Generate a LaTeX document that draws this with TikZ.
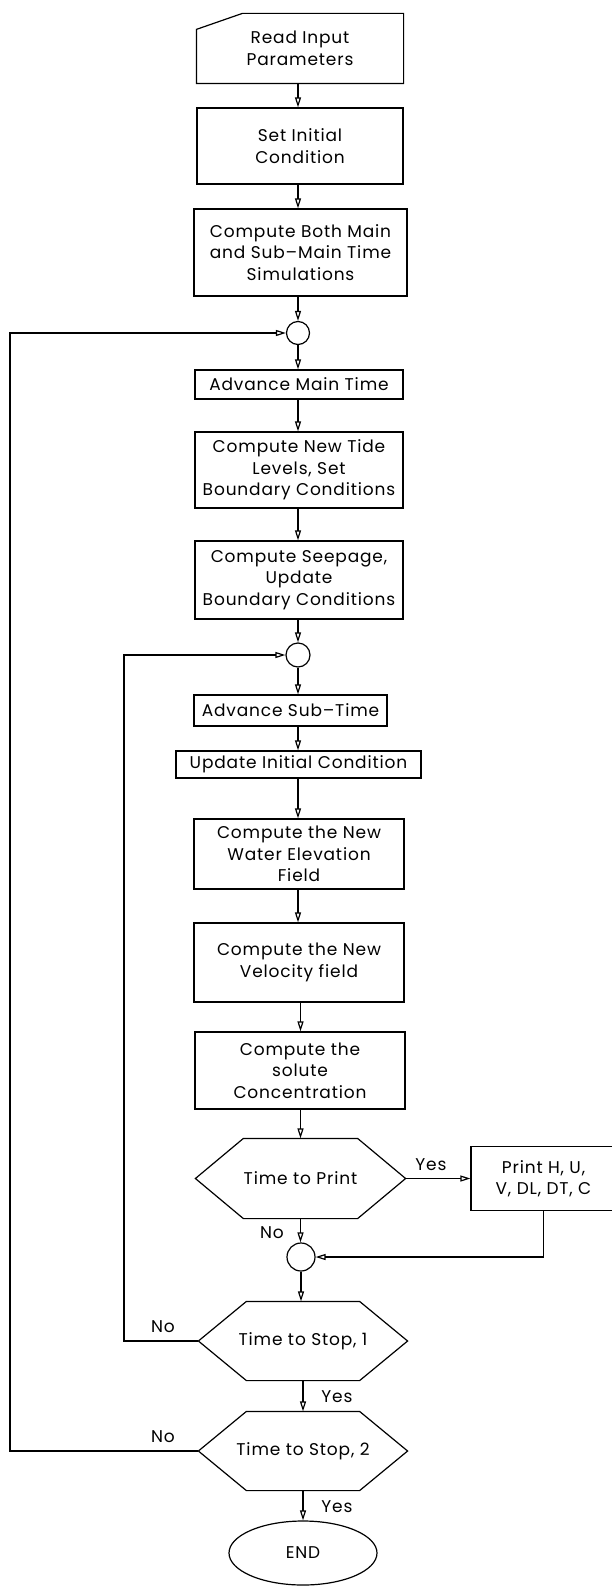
\documentclass[tikz,border=0pt]{standalone}
\usepackage{fontspec}
\setmainfont{Poppins}[LetterSpace=5]
\usetikzlibrary{arrows.meta,shapes.geometric,calc}
\newcommand\flowfont{\fontsize{17}{21.5}\selectfont}
\begin{document}
\begin{tikzpicture}[x=1pt,y=-1pt,line width=1.2pt,
  box/.style={draw,rectangle,align=center,inner sep=0pt,font=\flowfont},
  plain/.style={draw=none,rectangle,align=center,inner sep=0pt,font=\flowfont},
  joint/.style={draw,circle,inner sep=0pt,minimum size=23pt},
  lbl/.style={font=\flowfont,inner sep=1pt},
  arr/.style={-{Triangle[open,length=10pt,width=6pt]}}]
\useasboundingbox (0,0) rectangle (612,1586);

% read input (card shape)
\node[plain,minimum width=206pt,minimum height=69pt] (read) at (300,48.5) {Read Input\\Parameters};
\draw ([yshift=-16pt]read.north west) -- ([xshift=46pt]read.north west) -- (read.north east)
  -- (read.south east) -- (read.south west) -- cycle;

\node[box,minimum width=206pt,minimum height=76pt] (init) at (300,146) {Set Initial\\Condition};
\node[box,minimum width=213pt,minimum height=87pt] (both) at (300.5,252.5) {Compute Both Main\\and Sub--Main Time\\Simulations};
\node[joint] (c1) at (298,333) {};
\node[box,minimum width=208pt,minimum height=29pt] (advmain) at (299,384.5) {Advance Main Time};
\node[box,minimum width=208pt,minimum height=76pt] (tide) at (299,470) {Compute New Tide\\Levels, Set\\Boundary Conditions};
\node[box,minimum width=208pt,minimum height=78pt] (seep) at (299,580) {Compute Seepage,\\Update\\Boundary Conditions};
\node[joint,minimum size=24pt] (c2) at (298,655) {};
\node[box,minimum width=193pt,minimum height=31pt] (advsub) at (290.5,710.5) {Advance Sub--Time};
\node[box,minimum width=245pt,minimum height=27pt] (upd) at (298.5,764.5) {Update Initial Condition};
\node[box,minimum width=210pt,minimum height=70pt] (water) at (299,854) {Compute the New\\Water Elevation\\Field};
\node[box,minimum width=210pt,minimum height=79pt] (vel) at (299,962.5) {Compute the New\\Velocity field};
\node[box,minimum width=210pt,minimum height=77pt] (sol) at (300,1070.5) {Compute the\\solute\\Concentration};

% decision hexagons
\node[plain,minimum width=209pt,minimum height=79pt] (tprint) at (300.5,1178.5) {Time to Print};
\node[plain,minimum width=208pt,minimum height=78pt] (stop1) at (303,1341) {Time to Stop, 1};
\node[plain,minimum width=208pt,minimum height=78pt] (stop2) at (303,1451) {Time to Stop, 2};
\foreach \h in {tprint,stop1,stop2}{
  \draw (\h.west) -- ([xshift=48pt]\h.north west) -- ([xshift=-48pt]\h.north east) -- (\h.east)
    -- ([xshift=-48pt]\h.south east) -- ([xshift=48pt]\h.south west) -- cycle;
}

\node[box,minimum width=145pt,minimum height=64pt] (pbox) at (543.5,1178.5) {Print H, U,\\V, DL, DT, C};
\node[joint,minimum size=28pt] (c3) at (301,1257) {};
\node[draw,ellipse,minimum width=148pt,minimum height=64pt,inner sep=0pt,font=\flowfont] (end) at (303,1553) {END};

% main column arrows
\draw[arr] (read.south -| c1) -- (c1 |- init.north);
\draw[arr] (init.south -| c1) -- (c1 |- both.north);
\draw[arr] (both.south -| c1) -- (c1.north);
\draw[arr] (c1.south) -- (c1 |- advmain.north);
\draw[arr] (c1 |- advmain.south) -- (c1 |- tide.north);
\draw[arr] (c1 |- tide.south) -- (c1 |- seep.north);
\draw[arr] (c1 |- seep.south) -- (c2.north);
\draw[arr] (c2.south) -- (c2 |- advsub.north);
\draw[arr] (c2 |- advsub.south) -- (c2 |- upd.north);
\draw[arr] (c2 |- upd.south) -- (c2 |- water.north);
\draw[arr] (c2 |- water.south) -- (c2 |- vel.north);
\draw[arr] (vel.south -| tprint) -- (tprint |- sol.north);
\draw[arr] (sol.south -| tprint) -- (tprint.north);
\draw[arr] (tprint.south) -- (tprint.south |- c3.north);
\draw[arr] (c3.south) -- (c3.south |- stop1.north);
\draw[arr] (stop1.south) -- (stop2.north);
\draw[arr] (stop2.south) -- (end.north);

% print branch
\draw[arr] (tprint.east) -- (pbox.west);
\draw[arr] (pbox.south) |- (c3.east);

% loops
\coordinate (l1) at (124,1341);
\coordinate (l2) at (10,1451);
\draw[arr] (stop1.west) -- (l1) |- (c2.west);
\draw[arr] (stop2.west) -- (l2) |- (c1.west);

% labels
\node[lbl] (yprint) at (431,1165) {Yes};
\node[lbl] (nprint) at (272,1233) {No};
\node[lbl] (nstop1) at (163,1327) {No};
\node[lbl] (ystop1) at (337,1397) {Yes};
\node[lbl] (nstop2) at (163,1437) {No};
\node[lbl] (ystop2) at (337,1507) {Yes};
\end{tikzpicture}
\end{document}
